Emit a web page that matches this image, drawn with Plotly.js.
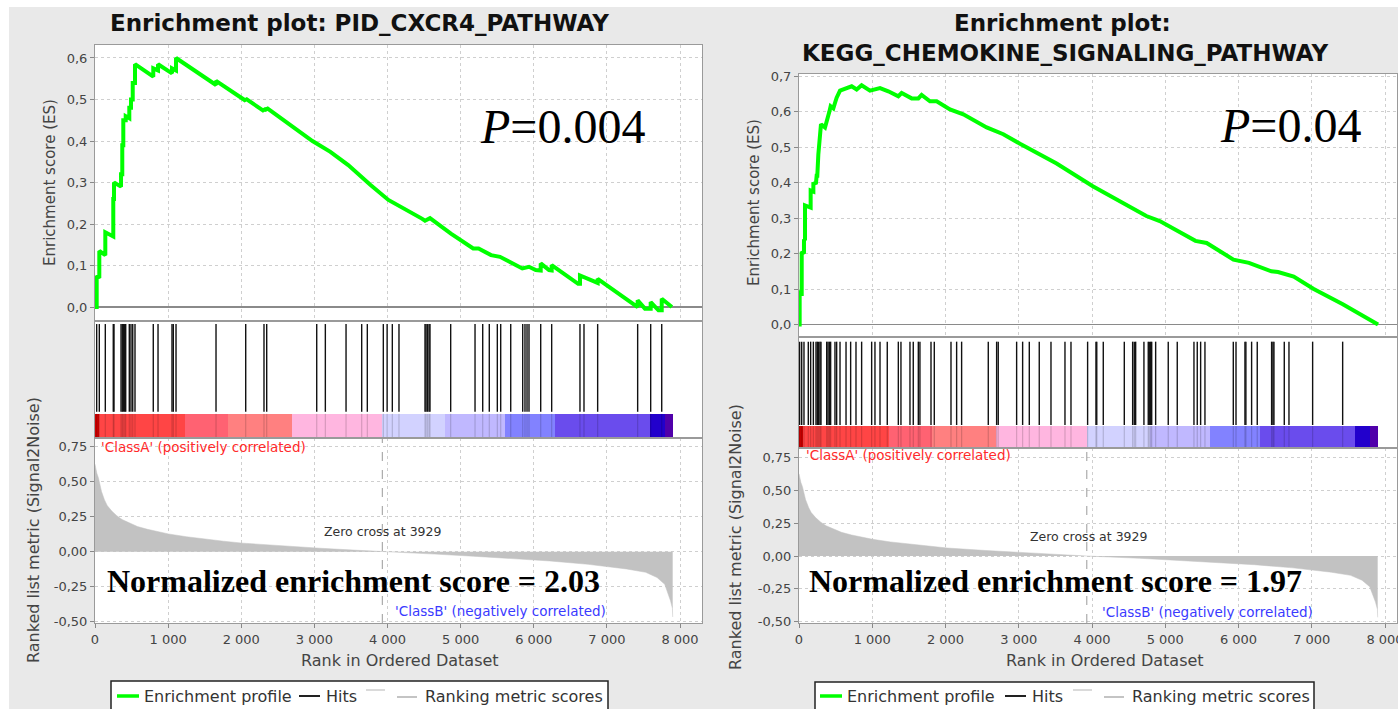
<!DOCTYPE html>
<html><head><meta charset="utf-8">
<script src="https://cdn.plot.ly/plotly-3.0.1.min.js"></script>
<style>html,body{margin:0;padding:0;background:#fff;}#chart{width:1398px;height:709px;}</style>
</head><body><div id="chart"></div>
<script>
const W = 1398, H = 709;

// ---------------- DATA ----------------
// Left panel: PID_CXCR4_PATHWAY
const hitsA = [23,59,141,250,260,356,373,387,406,420,469,492,516,547,797,862,1053,1071,1108,1655,2061,2311,2348,3032,3150,3433,3647,3724,3943,3995,4066,4157,4513,4527,4547,4568,4581,4864,5197,5302,5392,5502,5548,5685,5849,5880,5908,5935,6095,6245,6632,6687,6874,7421,7599,7750];
const esRankA = [0,23,23,59,59,141,141,250,250,260,260,356,356,373,373,387,387,420,420,469,469,492,492,516,516,547,547,797,797,862,862,1053,1053,1108,1108,1655,1655,2061,2061,2311,2311,2348,2348,2974,3219,3463,3768,4012,4470,4513,4581,4867,5172,5245,5416,5538,5843,5935,6027,6095,6095,6209,6245,6245,6607,6632,6632,6687,6820,6874,6874,7400,7421,7421,7521,7599,7599,7706,7750,7750,7889];
const esValA = [0,0,0.075,0.07,0.135,0.125,0.18,0.17,0.26,0.26,0.30,0.29,0.32,0.32,0.39,0.39,0.45,0.45,0.46,0.455,0.48,0.48,0.50,0.50,0.54,0.54,0.585,0.555,0.575,0.57,0.585,0.563,0.575,0.57,0.60,0.535,0.545,0.497,0.502,0.472,0.478,0.474,0.48,0.40,0.374,0.342,0.294,0.258,0.213,0.208,0.214,0.177,0.141,0.141,0.125,0.121,0.093,0.097,0.089,0.088,0.105,0.089,0.088,0.101,0.056,0.056,0.076,0.072,0.060,0.058,0.068,0.0,0.0,0.016,-0.004,-0.004,0.012,-0.008,-0.008,0.02,0.0];

// Right panel: KEGG_CHEMOKINE_SIGNALING_PATHWAY
const hitsB = [9,37,68,127,159,196,232,250,269,287,300,378,396,414,432,491,514,560,642,705,778,855,992,1037,1106,1205,1356,1392,1515,1560,1629,1651,1802,1847,2075,2152,2220,2584,2698,2720,2971,3053,3144,3280,3440,3631,3713,3940,4054,4065,4154,4441,4555,4577,4596,4709,4768,4782,4801,4815,4869,5041,5164,5392,5437,5483,5542,5929,5966,6088,6101,6179,6256,6452,6470,6484,6625,6689,7012,7422];
const esRankB = [0,9,9,37,37,68,68,82,82,159,159,196,196,232,241,250,264,287,300,355,378,414,432,469,491,514,560,628,719,787,855,969,1106,1219,1356,1401,1538,1629,1674,1788,1879,2061,2243,2562,2789,3017,3517,4011,4499,4742,4925,5412,5565,5931,6143,6449,6540,6754,7027,7424,7905];
const esValB = [0,0,0.09,0.088,0.205,0.2,0.24,0.238,0.336,0.33,0.378,0.375,0.397,0.40,0.42,0.42,0.48,0.54,0.565,0.556,0.57,0.60,0.616,0.61,0.625,0.64,0.66,0.665,0.672,0.663,0.675,0.66,0.667,0.658,0.644,0.653,0.638,0.638,0.648,0.63,0.63,0.607,0.593,0.556,0.537,0.51,0.454,0.39,0.334,0.306,0.292,0.236,0.23,0.183,0.174,0.15,0.148,0.135,0.1,0.057,0.0];

// Ranked list metric (shared ordered dataset)
const metricRank = [0,10,25,47,89,130,167,230,298,370,455,580,718,860,1005,1250,1504,1760,2024,2552,3077,3597,3929,4647,5170,5695,6219,6742,7267,7530,7686,7791,7843,7870,7896,7900];
const metricVal = [0.625,0.59,0.56,0.527,0.43,0.37,0.33,0.29,0.257,0.23,0.208,0.18,0.16,0.142,0.127,0.107,0.09,0.075,0.061,0.042,0.025,0.01,0.0,-0.017,-0.032,-0.049,-0.066,-0.09,-0.123,-0.147,-0.184,-0.233,-0.306,-0.35,-0.404,-0.466];

// Colour bar of the ranked list
const colorBreaks = [0,60,1230,1820,2690,3929,4786,5607,6290,7590,7795,7900];
const colorSegs = ['#cc0000','#ff4545','#ff6272','#ff8080','#ffb6e0','#d2d2ff','#c0b8ff','#8282ff','#6a4ced','#2200cc','#5000aa'];
const zeroCross = 3929;

// Tick labels
const xTickVals = [0,1000,2000,3000,4000,5000,6000,7000,8000];
const xTickText = ['0','1 000','2 000','3 000','4 000','5 000','6 000','7 000','8 000'];
const esTickValsA = [0,0.1,0.2,0.3,0.4,0.5,0.6];
const esTickTextA = ['0,0','0,1','0,2','0,3','0,4','0,5','0,6'];
const esTickValsB = [0,0.1,0.2,0.3,0.4,0.5,0.6,0.7];
const esTickTextB = ['0,0','0,1','0,2','0,3','0,4','0,5','0,6','0,7'];
const metricTickVals = [-0.5,-0.25,0,0.25,0.5,0.75];
const metricTickText = ['-0,50','-0,25','0,00','0,25','0,50','0,75'];

const titleA = 'Enrichment plot: PID_CXCR4_PATHWAY';
const titleB1 = 'Enrichment plot:';
const titleB2 = 'KEGG_CHEMOKINE_SIGNALING_PATHWAY';
const pTextA = '<i>P</i>=0.004';
const pTextB = '<i>P</i>=0.04';
const nesA = 'Normalized enrichment score = 2.03';
const nesB = 'Normalized enrichment score = 1.97';
const legendLabels = ['Enrichment profile','Hits','Ranking metric scores'];

// ---------------- HELPERS ----------------
const FONT = 'DejaVu Sans';
const fx = px => px / W;
const fy = py => 1 - py / H;

function hitLines(hits, y0, y1) {
  const xs = [], ys = [];
  hits.forEach(h => { xs.push(h, h, null); ys.push(y0, y1, null); });
  return {xs, ys};
}

const traces = [];
function panelTraces(hits, esR, esV, xa) {
  const [mx, my, ex, ey, hx, hy, hitLo, hitHi, barLo, barHi] = xa;
  const cx = [], cw = [];
  for (let i = 0; i < colorSegs.length; i++) {
    cx.push((colorBreaks[i] + colorBreaks[i+1]) / 2);
    cw.push(colorBreaks[i+1] - colorBreaks[i]);
  }
  traces.push({type:'bar', x:cx, y:cw.map(()=>barHi-barLo), base:barLo, width:cw,
    marker:{color:colorSegs, line:{width:0}}, xaxis:hx, yaxis:hy, showlegend:false, hoverinfo:'skip'});
  const ov = hitLines(hits, barLo, barHi);
  traces.push({type:'scatter', mode:'lines', x:ov.xs, y:ov.ys, xaxis:hx, yaxis:hy,
    line:{color:'rgba(0,0,0,0.16)', width:1.2}, showlegend:false, hoverinfo:'skip'});
  const hl = hitLines(hits, hitLo, hitHi);
  traces.push({type:'scatter', mode:'lines', x:hl.xs, y:hl.ys, xaxis:hx, yaxis:hy,
    line:{color:'#111', width:1.4}, showlegend:false, hoverinfo:'skip'});
  traces.push({type:'scatter', mode:'lines', x:metricRank, y:metricVal, fill:'tozeroy',
    fillcolor:'#c2c2c2', line:{color:'#c2c2c2', width:0.5}, xaxis:mx, yaxis:my, showlegend:false});
  traces.push({type:'scatter', mode:'lines', x:esR, y:esV, xaxis:ex, yaxis:ey,
    line:{color:'#00ff00', width:4}, showlegend:false});
}

panelTraces(hitsA, esRankA, esValA, ['x','y','x2','y2','x3','y3', 0.224, 0.974, 0.009, 0.207]);
panelTraces(hitsB, esRankB, esValB, ['x4','y4','x5','y5','x6','y6', 0.207, 0.958, 0.009, 0.198]);

const tickFont = {family:FONT, size:13, color:'#444'};
const grid = {showgrid:true, gridcolor:'#cfcfcf', griddash:'dot', gridwidth:1};
const frame = {showline:true, mirror:true, linecolor:'#9a9a9a', linewidth:1, zeroline:false};

function xMain(dom, rng, anchor) {
  return Object.assign({domain:dom, range:rng, anchor, tickvals:xTickVals, ticktext:xTickText,
    ticks:'outside', ticklen:4, tickcolor:'#888', tickfont:tickFont, ticklabeloverflow:'allow'}, grid, frame);
}
function xES(dom, m, anchor) {
  return Object.assign({domain:dom, matches:m, anchor, tickvals:xTickVals, showticklabels:false, ticks:''}, grid, frame);
}
function xHit(dom, m, anchor) {
  return Object.assign({domain:dom, matches:m, anchor, showticklabels:false, ticks:'', showgrid:false}, frame);
}

const domA = [fx(95), fx(702)];
const rangeA = [0, (702-95)*8000/585];
const domB = [fx(799), fx(1397)];
const rangeB = [0, (1397-799)*8000/586];

const layout = {
  width:W, height:H, margin:{l:0,r:0,t:0,b:0},
  paper_bgcolor:'#ffffff', plot_bgcolor:'rgba(0,0,0,0)',
  showlegend:false, bargap:0,
  xaxis: xMain(domA, rangeA, 'y'),
  xaxis2: xES(domA, 'x', 'y2'),
  xaxis3: xHit(domA, 'x', 'y3'),
  yaxis: Object.assign({domain:[fy(623), fy(438)], range:[-0.509, 0.812], anchor:'x',
    tickvals:metricTickVals, ticktext:metricTickText, ticks:'outside', ticklen:4, tickcolor:'#888', tickfont:tickFont}, grid, frame),
  yaxis2: Object.assign({domain:[fy(321), fy(45)], range:[-0.0337, 0.6313], anchor:'x2',
    tickvals:esTickValsA, ticktext:esTickTextA, ticks:'outside', ticklen:4, tickcolor:'#888', tickfont:tickFont}, grid, frame,
    {zeroline:true, zerolinecolor:'#8a8a8a', zerolinewidth:1.5}),
  yaxis3: Object.assign({domain:[fy(438), fy(321)], range:[0,1], anchor:'x3', showticklabels:false, ticks:'', showgrid:false}, frame),
  xaxis4: xMain(domB, rangeB, 'y4'),
  xaxis5: xES(domB, 'x4', 'y5'),
  xaxis6: xHit(domB, 'x4', 'y6'),
  yaxis4: Object.assign({domain:[fy(623), fy(448)], range:[-0.509, 0.821], anchor:'x4',
    tickvals:metricTickVals, ticktext:metricTickText, ticks:'outside', ticklen:4, tickcolor:'#888', tickfont:tickFont}, grid, frame),
  yaxis5: Object.assign({domain:[fy(337), fy(74)], range:[-0.0353, 0.7068], anchor:'x5',
    tickvals:esTickValsB, ticktext:esTickTextB, ticks:'outside', ticklen:4, tickcolor:'#888', tickfont:tickFont}, grid, frame,
    {zeroline:true, zerolinecolor:'#8a8a8a', zerolinewidth:1.5}),
  yaxis6: Object.assign({domain:[fy(448), fy(337)], range:[0,1], anchor:'x6', showticklabels:false, ticks:'', showgrid:false}, frame),
  shapes: [],
  annotations: []
};

const S = layout.shapes;
S.push({type:'rect', xref:'paper', yref:'paper', x0:fx(9), x1:fx(703), y0:fy(709), y1:fy(7), fillcolor:'#e9e9e9', line:{width:0}, layer:'below'});
S.push({type:'rect', xref:'paper', yref:'paper', x0:fx(703), x1:fx(1398), y0:fy(709), y1:fy(7), fillcolor:'#e9e9e9', line:{width:0}, layer:'below'});
['x','x2','x3','x4','x5','x6'].forEach((xa, i) => {
  const ya = ['y','y2','y3','y4','y5','y6'][i];
  S.push({type:'rect', xref:xa+' domain', yref:ya+' domain', x0:0, x1:1, y0:0, y1:1, fillcolor:'#ffffff', line:{width:0}, layer:'below'});
});
S.push({type:'line', xref:'x', yref:'y domain', x0:zeroCross, x1:zeroCross, y0:0, y1:1, line:{color:'#9a9a9a', width:1, dash:'dash'}});
S.push({type:'line', xref:'x4', yref:'y4 domain', x0:zeroCross, x1:zeroCross, y0:0, y1:1, line:{color:'#9a9a9a', width:1, dash:'dash'}});

const A = layout.annotations;
function ann(text, px, py, o) {
  o = o || {};
  A.push({xref:'paper', yref:'paper', x:fx(px), y:fy(py), text, showarrow:false,
    xanchor:o.xa || 'center', yanchor:'middle', textangle:o.angle || 0,
    font:{family:o.family || FONT, size:o.size || 13, color:o.color || '#333'}});
}

ann('<b>'+titleA+'</b>', 359, 23, {size:23, color:'#111'});
ann('Enrichment score (ES)', 50, 183, {angle:-90, size:15, color:'#444'});
ann('Ranked list metric (Signal2Noise)', 33, 530, {angle:-90, size:16, color:'#444'});
ann('Rank in Ordered Dataset', 400, 660, {size:16, color:'#444'});
ann(pTextA, 478, 127, {xa:'left', family:'Liberation Serif', size:48, color:'#000'});
ann('<b>'+nesA+'</b>', 105, 581, {xa:'left', family:'Liberation Serif', size:32, color:'#000'});
ann('Zero cross at '+zeroCross, 383, 531, {size:12.5, color:'#333'});
ann("'ClassA' (positively correlated)", 99, 447, {xa:'left', size:13.5, color:'#ff2a2a'});
ann("'ClassB' (negatively correlated)", 608, 611, {xa:'right', size:13.5, color:'#3a3aff'});

ann('<b>'+titleB1+'</b>', 1062, 23, {size:23, color:'#111'});
ann('<b>'+titleB2+'</b>', 1065, 53, {size:23, color:'#111'});
ann('Enrichment score (ES)', 754, 203, {angle:-90, size:15, color:'#444'});
ann('Ranked list metric (Signal2Noise)', 735, 537, {angle:-90, size:16, color:'#444'});
ann('Rank in Ordered Dataset', 1105, 660, {size:16, color:'#444'});
ann(pTextB, 1218, 126, {xa:'left', family:'Liberation Serif', size:48, color:'#000'});
ann('<b>'+nesB+'</b>', 807, 581, {xa:'left', family:'Liberation Serif', size:32, color:'#000'});
ann('Zero cross at '+zeroCross, 1089, 536, {size:12.5, color:'#333'});
ann("'ClassA' (positively correlated)", 804, 455, {xa:'left', size:13.5, color:'#ff2a2a'});
ann("'ClassB' (negatively correlated)", 1315, 612, {xa:'right', size:13.5, color:'#3a3aff'});

function legend(x0, x1, top, pos) {
  S.push({type:'rect', xref:'paper', yref:'paper', x0:fx(x0), x1:fx(x1), y0:fy(720), y1:fy(top), fillcolor:'#ffffff', line:{color:'#222', width:1.5}});
  const ly = 696;
  S.push({type:'line', xref:'paper', yref:'paper', x0:fx(pos[0]), x1:fx(pos[0]+22), y0:fy(ly), y1:fy(ly), line:{color:'#00ff00', width:3.5}});
  ann(legendLabels[0], pos[0]+25, ly, {xa:'left', size:16, color:'#333'});
  S.push({type:'line', xref:'paper', yref:'paper', x0:fx(pos[1]), x1:fx(pos[1]+21), y0:fy(ly), y1:fy(ly), line:{color:'#222', width:2}});
  ann(legendLabels[1], pos[1]+25, ly, {xa:'left', size:16, color:'#333'});
  S.push({type:'line', xref:'paper', yref:'paper', x0:fx(pos[2]), x1:fx(pos[2]+19), y0:fy(ly-6), y1:fy(ly-6), line:{color:'#dadada', width:2}});
  S.push({type:'line', xref:'paper', yref:'paper', x0:fx(pos[3]), x1:fx(pos[3]+20), y0:fy(ly+1), y1:fy(ly+1), line:{color:'#c4c4c4', width:2}});
  ann(legendLabels[2], pos[3]+26, ly, {xa:'left', size:16, color:'#333'});
}
legend(111, 608, 681, [117, 299, 366, 397]);
legend(815, 1314, 682, [820, 1005, 1073, 1104]);

Plotly.newPlot('chart', traces, layout, {displayModeBar:false, staticPlot:true});
</script>
</body></html>
